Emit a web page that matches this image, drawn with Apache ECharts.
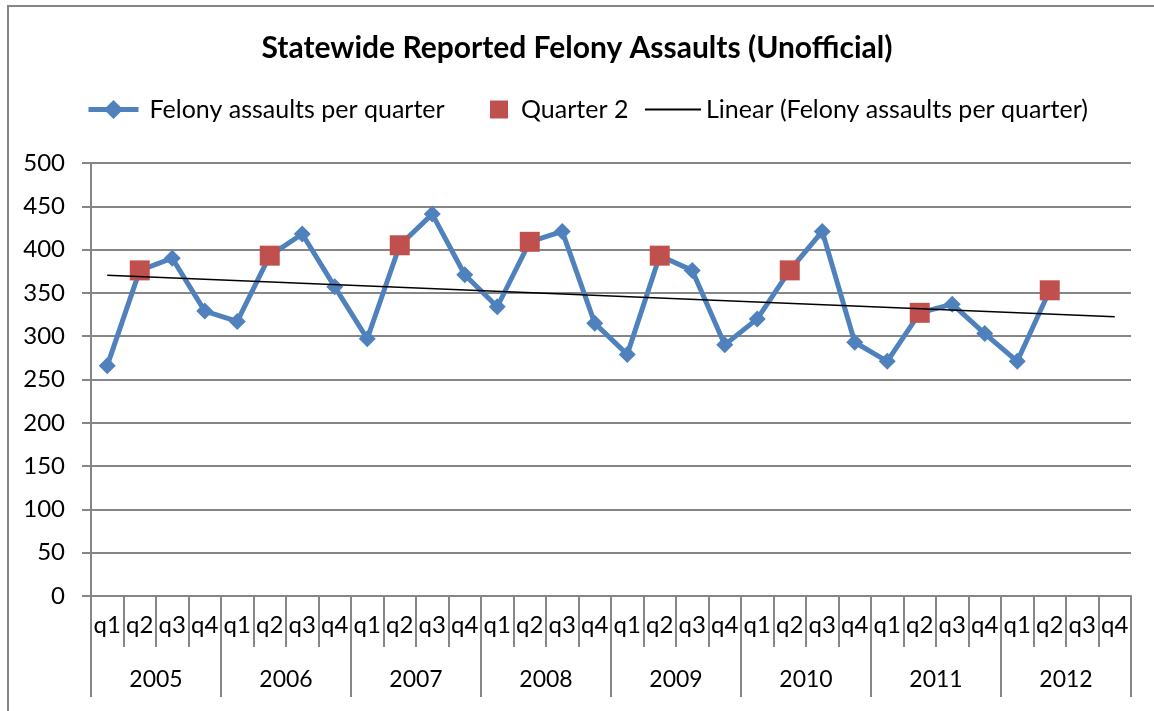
<!DOCTYPE html>
<html>
<head>
<meta charset="utf-8">
<script src="https://cdn.jsdelivr.net/npm/echarts@6/dist/echarts.min.js"></script>
<style>
  html, body { margin: 0; padding: 0; background: #fff; }
  #chart { width: 1154px; height: 711px; }
</style>
</head>
<body>
<div id="chart"></div>
<script>
// quarters and years on the two-level category axis
const quarters = [];
const years = ["2005", "2006", "2007", "2008", "2009", "2010", "2011", "2012"];
years.forEach(() => quarters.push("q1", "q2", "q3", "q4"));

// felony assaults per quarter
const assaults = [
  266, 376, 390, 329,
  317, 393, 418, 357,
  297, 405, 441, 371,
  334, 409, 421, 315,
  279, 393, 376, 290,
  320, 376, 421, 293,
  271, 327, 337, 303,
  271, 353, null, null
];

// quarter 2 markers
const quarter2 = [
  null, 376, null, null,
  null, 393, null, null,
  null, 405, null, null,
  null, 409, null, null,
  null, 393, null, null,
  null, 376, null, null,
  null, 327, null, null,
  null, 353, null, null
];

// linear trend, end points only
const trendStart = 370.5;
const trendEnd = 322.5;
const trend = quarters.map((q, i) => (i === 0 ? trendStart : i === 31 ? trendEnd : null));

const gray = "#868686";
const font = "Lato";

const chart = echarts.init(document.getElementById("chart"));
const legendText = { fontFamily: font, fontSize: 25, color: "#000" };

chart.setOption({
  animation: false,
  textStyle: { fontFamily: font },
  title: {
    text: "Statewide Reported Felony Assaults (Unofficial)",
    left: "center",
    top: 28,
    textStyle: { fontFamily: font, fontSize: 30, fontWeight: "bold", color: "#000" },
  },
  graphic: [
    {
      type: "rect",
      shape: { x: 8, y: 6, width: 1200, height: 800 },
      style: { fill: "none", stroke: gray, lineWidth: 2 },
      silent: true,
    },
  ],
  legend: [
    {
      data: ["Felony assaults per quarter"],
      left: 81,
      top: 92,
      itemWidth: 50,
      itemHeight: 24,
      lineStyle: { width: 5 },
      textStyle: Object.assign({ padding: [0, 0, 0, 6] }, legendText),
    },
    {
      data: [{ name: "Quarter 2", icon: "rect" }],
      left: 485,
      top: 92,
      itemWidth: 18,
      itemHeight: 18,
      itemStyle: { opacity: 1 },
      textStyle: Object.assign({ padding: [0, 0, 0, 8] }, legendText),
    },
    {
      data: [{ name: "Linear (Felony assaults per quarter)", icon: "rect" }],
      left: 640,
      top: 92,
      itemWidth: 56,
      itemHeight: 2,
      textStyle: Object.assign({ padding: [0, 0, 0, 0] }, legendText),
    },
  ],
  grid: { left: 91, right: 23, top: 163, bottom: 115 },
  xAxis: [
    {
      type: "category",
      data: quarters,
      boundaryGap: true,
      axisLine: { lineStyle: { color: gray, width: 2 } },
      axisTick: { show: true, interval: 0, length: 51, lineStyle: { color: gray, width: 2 } },
      axisLabel: { interval: 0, fontSize: 24, color: "#000", margin: 17 },
      splitLine: { show: false },
    },
    {
      type: "category",
      data: years,
      position: "bottom",
      boundaryGap: true,
      axisLine: { show: false },
      axisTick: { show: true, interval: 0, length: 101, lineStyle: { color: gray, width: 2 } },
      axisLabel: { interval: 0, fontSize: 23, color: "#000", margin: 72 },
      splitLine: { show: false },
    },
  ],
  yAxis: {
    type: "value",
    min: 0,
    max: 500,
    interval: 50,
    axisLine: { show: true, lineStyle: { color: gray, width: 2 } },
    axisTick: { show: true, length: 9, lineStyle: { color: gray, width: 2 } },
    axisLabel: { fontSize: 24, color: "#000", margin: 26 },
    splitLine: { lineStyle: { color: gray, width: 2 } },
  },
  series: [
    {
      name: "Felony assaults per quarter",
      type: "line",
      data: assaults,
      symbol: "diamond",
      symbolSize: 17,
      itemStyle: { color: "#4F81BD" },
      lineStyle: { color: "#4F81BD", width: 5 },
      z: 3,
    },
    {
      name: "Quarter 2",
      type: "scatter",
      data: quarter2,
      symbol: "rect",
      symbolSize: 20,
      itemStyle: { color: "#C0504D", opacity: 1 },
      z: 4,
    },
    {
      name: "Linear (Felony assaults per quarter)",
      type: "line",
      data: trend,
      connectNulls: true,
      symbol: "none",
      itemStyle: { color: "#000" },
      lineStyle: { color: "#000", width: 1.5 },
      z: 5,
    },
  ],
});
</script>
</body>
</html>
